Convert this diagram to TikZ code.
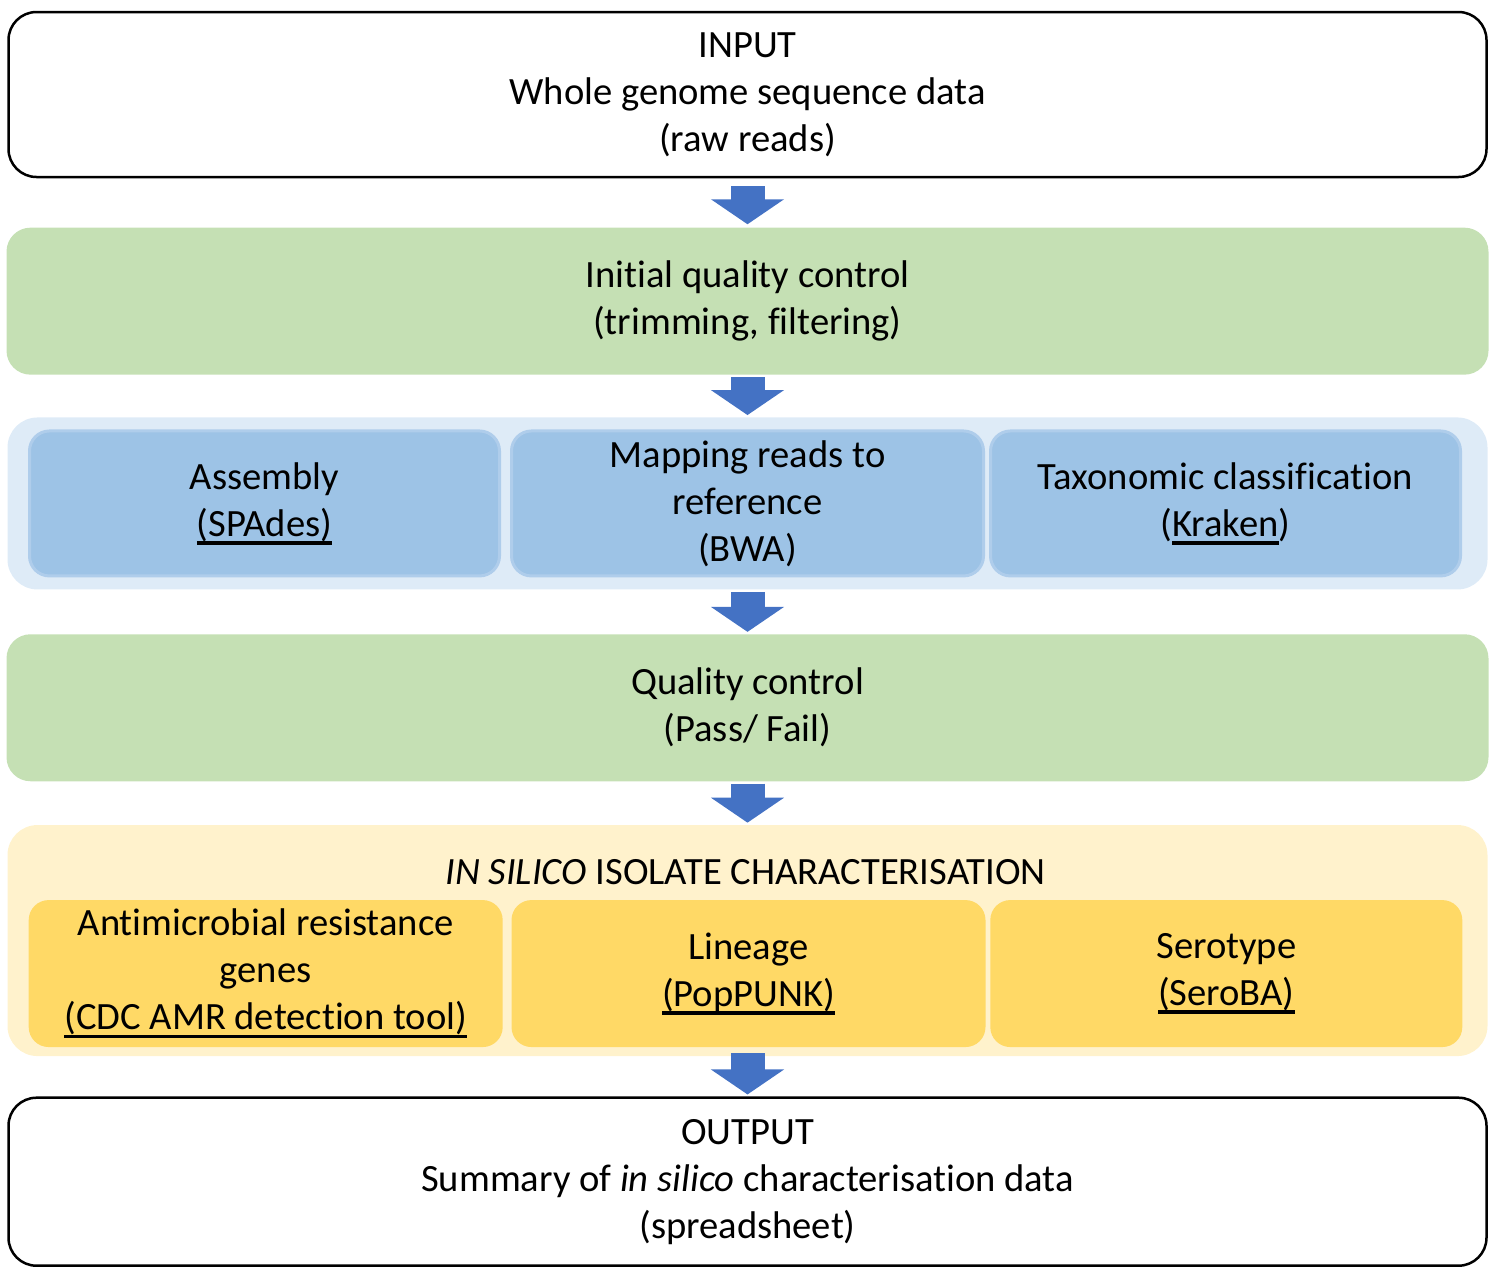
\documentclass[tikz,border=0pt]{standalone}
\usepackage{fontspec}
\setmainfont{Carlito}[Ligatures=NoCommon]
\usetikzlibrary{positioning,calc,arrows.meta}
\definecolor{qcgreen}{HTML}{C5E0B4}
\definecolor{mapback}{HTML}{DEEBF7}
\definecolor{mapblue}{HTML}{9DC3E6}
\definecolor{mapedge}{HTML}{AFCDEB}
\definecolor{charback}{HTML}{FFF2CC}
\definecolor{charyellow}{HTML}{FFD966}
\definecolor{arrowblue}{HTML}{4472C4}
\newcommand{\toolname}[1]{\setbox0\hbox{#1}\rlap{\rule[-4.2pt]{\wd0}{1.7pt}}\box0}
\tikzset{
    flow/.style={-{Triangle[width=36pt,length=12.5pt]}, line width=17pt, draw=arrowblue, shorten <=1pt, shorten >=1pt},
}

\begin{document}
\begin{tikzpicture}[x=1pt, y=1pt, font=\fontsize{19.3}{23.5}\selectfont,
  io/.style={rectangle, draw=black, line width=1.25pt, fill=white, rounded corners=14pt, minimum width=739pt, minimum height=82.5pt, align=center},
  stage/.style={rectangle, fill=qcgreen, rounded corners=12pt, minimum width=741pt, minimum height=73.5pt, align=center},
  group/.style={rectangle, fill=#1, rounded corners=15pt, minimum width=740pt},
  tool/.style={rectangle, rounded corners=10pt, minimum width=235pt, minimum height=72.5pt, align=center, inner sep=0pt}]
  \useasboundingbox (0,0) rectangle (750,-638);

  \node [io] (input) at (373.75,-47.25) {INPUT\\Whole genome sequence data\\(raw reads)};
  \node [stage, below=24.5pt of input] (qcinit) {Initial quality control\\(trimming, filtering)};

  \node [group=mapback, minimum height=86pt, below=21pt of qcinit] (mapping) {};
  \node [tool, fill=mapblue, draw=mapedge, line width=1.5pt, minimum width=236pt] (bwa) at (mapping.center)
    {Mapping reads to\\reference\\(BWA)};
  \node [tool, fill=mapblue, draw=mapedge, line width=1.5pt, left=4.5pt of bwa] (spades)
    {Assembly\\\toolname{(SPAdes)}};
  \node [tool, fill=mapblue, draw=mapedge, line width=1.5pt, right=2pt of bwa] (kraken)
    {Taxonomic classification\\(\toolname{Kraken})};

  \node [stage, below=22pt of mapping] (qcpass) {Quality control\\(Pass/ Fail)};

  \node [group=charback, minimum height=115.5pt, below=21.5pt of qcpass] (insilico) {};
  \node (insilicotitle) at ($(insilico.north)+(-1,-23.5)$) {\textit{IN SILICO} ISOLATE CHARACTERISATION};
  \node [tool, fill=charyellow, minimum width=237pt, minimum height=73.5pt, anchor=south] (poppunk) at ($(insilico.south)+(0.5,4.5)$)
    {Lineage\\\toolname{(PopPUNK)}};
  \node [tool, fill=charyellow, minimum width=237pt, minimum height=73.5pt, left=4pt of poppunk] (amr)
    {Antimicrobial resistance\\genes\\\toolname{(CDC AMR detection tool)}};
  \node [tool, fill=charyellow, minimum width=236pt, minimum height=73.5pt, right=2pt of poppunk] (seroba)
    {Serotype\\\toolname{(SeroBA)}};

  \node [io, minimum height=84pt, below=20pt of insilico] (output)
    {OUTPUT\\Summary of \textit{in silico} characterisation data\\(spreadsheet)};

  % ARROWS
  \draw[flow, shorten <=4pt, shorten >=1.5pt] (input) -- (qcinit);
  \draw[flow] (qcinit) -- (mapping);
  \draw[flow] (mapping) -- (qcpass);
  \draw[flow] (qcpass) -- (insilico);
  \draw[flow, shorten <=-1.5pt] (insilico) -- (output);
\end{tikzpicture}
\end{document}
